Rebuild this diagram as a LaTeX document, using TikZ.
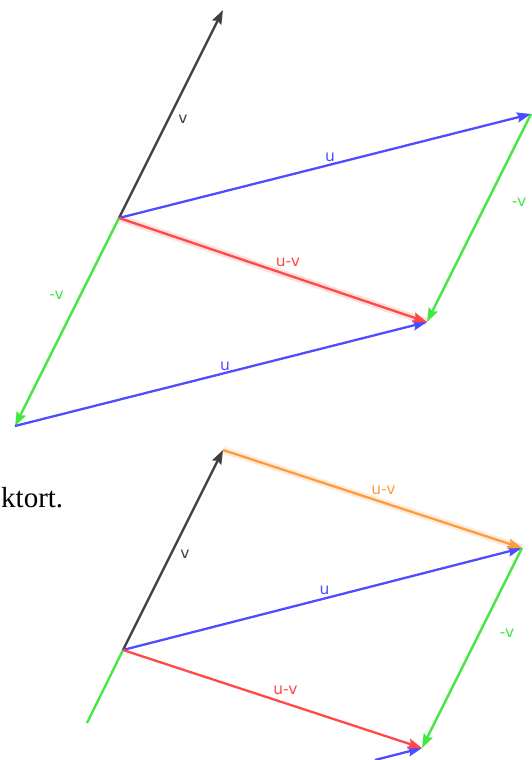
\documentclass[tikz,border=0pt]{standalone}
\usepackage{fontspec}
\setmainfont{Liberation Serif}
\newfontfamily\lblfont{DejaVu Sans}
\usetikzlibrary{arrows.meta}
\definecolor{ublue}{RGB}{77,77,255}
\definecolor{vgray}{RGB}{64,64,64}
\definecolor{nvgreen}{RGB}{64,232,64}
\definecolor{dred}{RGB}{255,72,72}
\definecolor{dorange}{RGB}{255,155,60}
\begin{document}
\begin{tikzpicture}[x=1pt, y=-1pt,
		tip/.style = {-{Stealth[length=14pt, width=10pt, inset=2pt]}},
		uvec/.style = {tip, draw=ublue, line width=2.3pt},
		vvec/.style = {tip, draw=vgray, line width=2.3pt},
		nvec/.style = {tip, draw=nvgreen, line width=2.3pt},
		dvec/.style = {tip, draw=dred, line width=2.3pt},
		ovec/.style = {tip, draw=dorange, line width=2.3pt},
		glow/.style = {line width=7pt, draw opacity=.18},
		lbl/.style = {font=\lblfont\fontsize{15.5}{15.5}\selectfont, inner sep=0pt}
		]
		\useasboundingbox (0,0) rectangle (532,760);
		
		%Points
		\coordinate (O1) at (119, 218);
		\coordinate (V1) at (223, 10);
		\coordinate (U1) at (531, 114);
		\coordinate (P1) at (427, 322);
		\coordinate (W1) at (15, 426);
		\coordinate (O2) at (123, 650);
		\coordinate (V2) at (223, 450);
		\coordinate (U2) at (522, 548);
		\coordinate (P2) at (422, 748);
		\coordinate (G2) at (87, 723);
		\coordinate (B2) at (375, 760);
		\node[font=\fontsize{29}{29}\selectfont, anchor=base west, inner sep=0pt] (txt) at (1, 507) {ktort.};
		
		%Lines (top)
		\draw[glow, dred]	(O1) -- (P1);
		\draw[vvec]	(O1) -- node[lbl, text=vgray, midway, xshift=12, yshift=-5] {v} (V1);
		\draw[nvec]	(O1) -- node[lbl, text=nvgreen, pos=.37, xshift=-24] {-v} (W1);
		\draw[uvec]	(O1) -- node[lbl, text=ublue, midway, xshift=5, yshift=9] {u} (U1);
		\draw[nvec]	(U1) -- node[lbl, text=nvgreen, midway, xshift=40, yshift=16] {-v} (P1);
		\draw[uvec]	(W1) -- node[lbl, text=ublue, midway, xshift=4, yshift=8] {u} (P1);
		\draw[dvec]	(O1) -- node[lbl, text=dred, midway, xshift=15, yshift=8] {u-v} (P1);
		
		%Lines (bottom)
		\draw[glow, dorange]	(V2) -- (U2);
		\draw[nvgreen, line width=2.3pt]	(O2) -- (G2);
		\draw[vvec]	(O2) -- node[lbl, text=vgray, midway, xshift=12, yshift=-4] {v} (V2);
		\draw[uvec]	(O2) -- node[lbl, text=ublue, midway, xshift=2, yshift=9] {u} (U2);
		\draw[nvec]	(U2) -- node[lbl, text=nvgreen, midway, xshift=35, yshift=15] {-v} (P2);
		\draw[uvec]	(B2) -- (P2);
		\draw[dvec]	(O2) -- node[lbl, text=dred, midway, xshift=13, yshift=9] {u-v} (P2);
		\draw[ovec]	(V2) -- node[lbl, text=dorange, midway, xshift=11, yshift=9] {u-v} (U2);
	\end{tikzpicture}
\end{document}
